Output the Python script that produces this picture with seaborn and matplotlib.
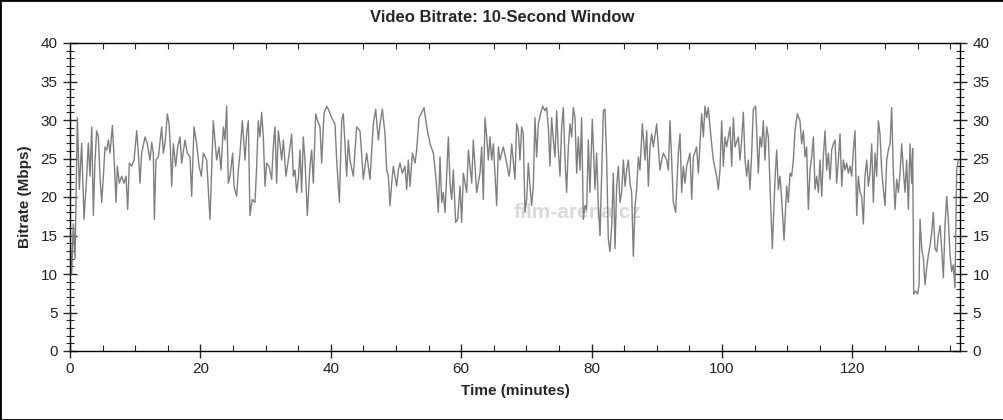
import pandas as pd
import matplotlib
matplotlib.use("Agg")
import matplotlib.pyplot as plt
from matplotlib.patches import Rectangle
from matplotlib.ticker import MultipleLocator
import seaborn as sns

# Time (minutes) of each reading
minutes = [
    0.00, 0.26, 0.51, 0.77, 1.13, 1.43, 1.79, 2.15, 2.56, 2.81, 3.07, 3.33, 3.58, 3.84,
    4.09, 4.35, 4.60, 4.86, 5.12, 5.37, 5.63, 5.88, 6.14, 6.50, 6.80, 7.06, 7.26, 7.57,
    7.93, 8.28, 8.59, 8.85, 9.10, 9.46, 9.82, 10.23, 10.48, 10.74, 10.99, 11.51, 11.86,
    12.27, 12.53, 12.78, 12.94, 13.19, 13.55, 14.06, 14.32, 14.57, 14.93, 15.19, 15.39,
    15.60, 15.85, 16.21, 16.52, 16.87, 17.13, 17.64, 18.00, 18.41, 18.66, 19.02, 19.43,
    19.79, 20.14, 20.45, 20.96, 21.47,
    21.98, 22.49, 22.85, 23.16, 23.52, 23.77, 24.03, 24.28, 24.54, 24.95, 25.15, 25.56,
    25.82, 26.07, 26.43, 26.84, 27.09, 27.35, 27.60, 27.96, 28.37, 28.63, 28.88, 29.14,
    29.39, 29.65, 29.91, 30.16, 30.52, 30.93, 31.18, 31.44, 31.69, 31.95, 32.20, 32.46,
    32.72, 33.12, 33.48, 33.99, 34.25, 34.51, 34.76, 35.02, 35.27, 35.53, 35.78, 36.04,
    36.40, 36.81, 37.06, 37.32, 37.68, 37.98, 38.34, 38.60, 38.95, 39.36, 39.72, 40.13,
    40.64, 40.90, 41.31, 41.67, 41.92, 42.43, 42.69, 42.94, 43.45, 43.96,
    44.48, 44.99, 45.50, 46.01, 46.52, 46.88, 47.29, 47.55, 47.91, 48.31, 48.57, 48.83,
    49.08, 49.34, 49.59, 50.10, 50.36, 50.61, 50.97, 51.38, 51.64, 51.89, 52.15, 52.51,
    52.92, 53.17, 53.53, 53.84, 54.30, 54.71, 55.22, 55.73, 56.14, 56.49, 56.75, 57.01,
    57.26, 57.52, 58.03, 58.28, 58.54, 58.79, 59.15, 59.46, 59.82, 60.07, 60.33, 60.84,
    61.10, 61.61, 61.86, 62.37, 62.88, 63.14, 63.39, 63.65, 63.91, 64.16, 64.42, 64.67,
    64.93, 65.44, 65.70, 65.95, 66.46, 66.97, 67.33,
    67.48, 67.74, 68.25, 68.50, 68.76, 69.01, 69.27, 69.52, 69.78, 70.04, 70.29, 70.55,
    70.80, 71.06, 71.31, 71.57, 71.83, 72.18, 72.49, 72.85, 73.10, 73.36, 73.61, 73.87,
    74.13, 74.38, 74.64, 74.89, 75.15, 75.40, 75.66, 75.92, 76.17, 76.43, 76.68, 76.94,
    77.19, 77.45, 77.71, 77.96, 78.22, 78.47, 78.73, 78.98, 79.24, 79.50, 79.75, 80.11,
    80.52, 80.77, 81.03, 81.29, 81.54, 81.80, 82.05, 82.31, 82.56, 82.82, 83.08, 83.33,
    83.59, 83.84, 84.10, 84.35, 84.61, 84.87, 85.12, 85.38, 85.63, 85.89, 86.14, 86.40,
    86.66, 86.91, 87.17, 87.42, 87.78, 88.19, 88.45, 88.70, 88.96, 89.21, 89.47, 89.98,
    90.49,
    90.75, 91.00, 91.51, 91.77, 92.02, 92.28, 92.53, 92.89, 93.30, 93.56, 93.81, 94.07,
    94.32, 94.58, 95.09, 95.35, 95.60, 96.11, 96.37, 96.88, 97.14, 97.39, 97.65, 97.90,
    98.16, 98.41, 98.67, 99.18, 99.44, 99.69, 99.95, 100.20, 100.46, 100.71, 101.23,
    101.48, 101.74, 101.99, 102.50, 102.76, 103.01, 103.27, 103.53, 103.78, 104.04,
    104.29, 104.55, 104.80, 105.16, 105.57, 105.83, 106.08, 106.34, 106.59, 106.85,
    107.11, 107.36, 107.72, 108.13, 108.38, 108.64, 108.89, 109.15, 109.51, 109.92,
    110.17, 110.43, 110.68, 110.94, 111.19, 111.55, 111.96, 112.22, 112.47, 112.73,
    112.98, 113.24, 113.50,
    113.76, 114.01, 114.27, 114.52, 114.78, 115.03, 115.29, 115.54, 115.80, 116.06,
    116.31, 116.57, 116.82, 117.08, 117.33, 117.59, 117.85, 118.10, 118.36, 118.61,
    118.87, 119.12, 119.38, 119.63, 119.89, 120.15, 120.40, 120.66, 120.91, 121.17,
    121.42, 121.68, 121.93, 122.19, 122.45, 122.70, 122.96, 123.21, 123.47, 123.72,
    123.98, 124.23, 124.49, 124.75, 125.00, 125.26, 125.51, 125.77, 126.02, 126.28,
    126.54, 126.79, 127.05, 127.30, 127.56, 127.81, 128.07, 128.32, 128.58, 128.84,
    129.09, 129.24, 129.40, 129.70, 130.01, 130.22, 130.37, 130.63, 130.88, 131.14,
    131.39, 131.65, 131.90, 132.16, 132.41, 132.67, 132.93, 133.18, 133.44, 133.69,
    133.95, 134.20, 134.46, 134.71, 134.97, 135.22, 135.48, 135.73, 135.99, 136.25,
]

# Bitrate (Mbps) at each reading
bitrate = [
    15.0, 10.0, 16.5, 12.0, 30.3, 21.0, 27.0, 17.1, 22.7, 27.0, 22.7, 29.1, 17.6, 24.8,
    28.6, 27.8, 22.7, 19.3, 22.7, 26.5, 26.1, 27.4, 25.7, 29.3, 24.4, 19.3, 24.0, 21.8,
    22.7, 21.8, 22.7, 18.4, 24.4, 24.0, 24.8, 28.6, 25.7, 21.8, 25.7, 27.8, 26.9,
    24.8, 27.1, 25.7, 17.1, 24.8, 25.2, 29.1, 25.7, 27.0, 30.8, 29.5, 26.5,
    21.4, 26.9, 24.0, 26.5, 27.8, 24.4, 27.4, 25.7, 25.2, 20.1, 29.1, 26.9,
    24.0, 22.7, 25.7, 24.8, 17.1,
    29.9, 24.8, 26.5, 23.5, 29.1, 27.4, 31.8, 21.8, 22.7, 25.7, 21.4, 20.1,
    23.5, 25.7, 29.9, 24.8, 28.2, 29.9, 17.6, 19.7, 19.3, 24.0, 29.9, 27.8,
    31.0, 27.8, 21.4, 24.4, 24.0, 22.3, 26.5, 29.1, 21.8, 28.6, 26.9, 24.8,
    27.4, 22.7, 24.8, 28.2, 22.7, 23.5, 20.6, 22.3, 26.1, 20.6, 27.8, 24.8,
    17.6, 24.0, 26.1, 21.8, 30.8, 29.9, 29.1, 24.4, 30.8, 31.8, 31.2, 30.3,
    29.5, 24.8, 19.3, 29.9, 30.8, 22.7, 27.4, 24.8, 22.7, 29.1,
    28.6, 22.3, 25.7, 22.3, 29.5, 31.4, 27.4, 29.5, 31.4, 28.2, 23.5, 22.7,
    18.9, 21.8, 24.0, 21.4, 23.5, 24.4, 23.1, 24.0, 21.0, 24.8, 21.4, 25.7,
    24.4, 26.1, 30.3, 30.8, 31.6, 29.1, 26.9, 25.7, 22.3, 18.0, 25.2, 19.3,
    20.6, 18.0, 27.8, 21.8, 19.7, 23.5, 16.7, 17.1, 21.4, 16.7, 23.1, 20.6,
    26.1, 21.8, 27.4, 20.6, 23.1, 26.5, 19.7, 30.3, 27.8, 24.8, 27.8, 24.8,
    26.9, 18.9, 26.5, 24.8, 26.5, 24.4, 22.7,
    23.5, 26.9, 22.3, 29.5, 28.6, 24.8, 29.1, 28.2, 18.0, 19.7, 24.4, 21.4,
    18.9, 21.4, 30.3, 25.2, 29.5, 30.8, 31.8, 31.2, 31.6, 29.1, 24.0, 30.3,
    27.4, 25.2, 31.2, 26.1, 22.7, 29.1, 31.6, 24.8, 20.6, 26.5, 29.5, 27.8,
    31.6, 30.3, 23.1, 27.8, 23.5, 30.3, 17.1, 18.9, 18.4, 27.4, 20.6, 30.1,
    21.0, 25.7, 18.9, 15.0, 23.1, 31.2, 31.4, 24.8, 14.6, 12.9, 16.3, 23.1,
    13.3, 21.4, 24.0, 19.3, 20.6, 24.8, 21.4, 23.5, 24.8, 21.8, 20.6, 12.3,
    18.9, 21.0, 25.2, 23.5, 29.5, 24.8, 28.6, 21.4, 26.5, 28.2, 26.5, 29.5,
    23.5,
    24.8, 25.7, 24.8, 23.5, 29.9, 24.8, 19.3, 18.0, 25.7, 28.2, 20.6, 24.0,
    21.8, 24.0, 25.7, 19.7, 25.2, 26.5, 23.1, 30.8, 27.8, 31.8, 30.3, 31.6,
    29.1, 26.9, 24.8, 22.7, 21.0, 23.5, 29.9, 24.0, 27.8, 26.5, 29.1,
    24.0, 30.3, 26.5, 27.8, 24.8, 27.4, 31.0, 24.8, 22.7, 24.8,
    21.0, 25.7, 31.4, 31.8, 23.1, 27.8, 26.5, 29.9, 24.8, 29.1,
    27.8, 21.4, 13.3, 22.3, 26.1, 21.0, 22.7, 19.7, 14.4, 21.4,
    19.3, 23.1, 22.7, 24.8, 28.6, 30.8, 29.9, 26.9, 28.6, 25.2,
    26.5, 18.4, 23.5,
    25.2, 27.8, 21.0, 22.7, 20.6, 24.8, 20.1, 25.2, 28.6, 23.5,
    25.7, 22.3, 26.1, 26.9, 27.4, 21.8, 24.8, 28.2, 21.4, 24.8,
    23.5, 24.4, 23.1, 24.0, 22.7, 26.1, 28.6, 17.6, 22.7, 20.6,
    20.1, 16.5, 22.7, 24.8, 21.4, 23.1, 26.9, 19.3, 25.7, 22.7,
    29.9, 28.2, 23.5, 21.0, 18.9, 24.8, 26.1, 26.9, 31.6, 23.1,
    18.4, 22.3, 20.6, 23.1, 26.9, 23.5, 20.6, 24.8, 18.4, 26.9,
    21.8, 26.3, 7.4, 7.8, 7.4, 8.6, 17.1, 13.3, 12.0, 8.6,
    10.8, 12.5, 13.7, 15.4, 18.0, 13.3, 12.9, 15.0, 16.3, 13.3,
    9.5, 16.3, 20.1, 17.1, 12.5, 10.3, 11.2, 8.2, 23.5, 24.8,
]

df = pd.DataFrame({"minutes": minutes, "bitrate": bitrate})

sns.set_style("white")
plt.rcParams["font.family"] = ["Liberation Sans", "DejaVu Sans"]

fig = plt.figure(figsize=(10.04, 4.2), dpi=100)
ax = fig.add_axes([70 / 1004, 69 / 420, 890 / 1004, 308 / 420])

sns.lineplot(data=df, x="minutes", y="bitrate", ax=ax, estimator=None, sort=False,
             color="#7f7f7f", linewidth=1.0)

ax.set_xlim(0, 136.5)
ax.set_ylim(0, 40)
ax.xaxis.set_major_locator(MultipleLocator(20))
ax.xaxis.set_minor_locator(MultipleLocator(5))
ax.yaxis.set_major_locator(MultipleLocator(5))
ax.yaxis.set_minor_locator(MultipleLocator(1))

ax.tick_params(axis="y", which="major", direction="inout", length=10, width=1,
               left=True, right=True, labelleft=True, labelright=True,
               labelsize=11, labelcolor="#222222", pad=4)
ax.tick_params(axis="y", which="minor", direction="inout", length=6, width=0.8,
               left=True, right=True)
ax.tick_params(axis="x", which="major", direction="inout", length=10, width=1,
               bottom=True, top=False, labelsize=11, labelcolor="#222222", pad=3)
ax.tick_params(axis="x", which="minor", direction="in", length=4, width=0.8,
               bottom=True, top=True)

for side in ["left", "right", "top", "bottom"]:
    ax.spines[side].set_visible(True)
    ax.spines[side].set_color("black")
    ax.spines[side].set_linewidth(1.0)

ax.set_xlabel("Time (minutes)", fontsize=11, fontweight="bold", labelpad=6)
ax.set_ylabel("Bitrate (Mbps)", fontsize=11, fontweight="bold", labelpad=6)
fig.suptitle("Video Bitrate: 10-Second Window", fontsize=12, fontweight="bold",
             x=0.5, y=0.975)

ax.text(0.57, 0.45, "film-arena.cz", transform=ax.transAxes, fontsize=15,
        fontweight="bold", color="#d0d0d0", alpha=0.8, ha="center", va="center",
        zorder=0)

fig.add_artist(Rectangle((0, 0), 1, 1, transform=fig.transFigure, fill=False,
                         edgecolor="black", linewidth=2))

fig.savefig("out.png", dpi=100)
